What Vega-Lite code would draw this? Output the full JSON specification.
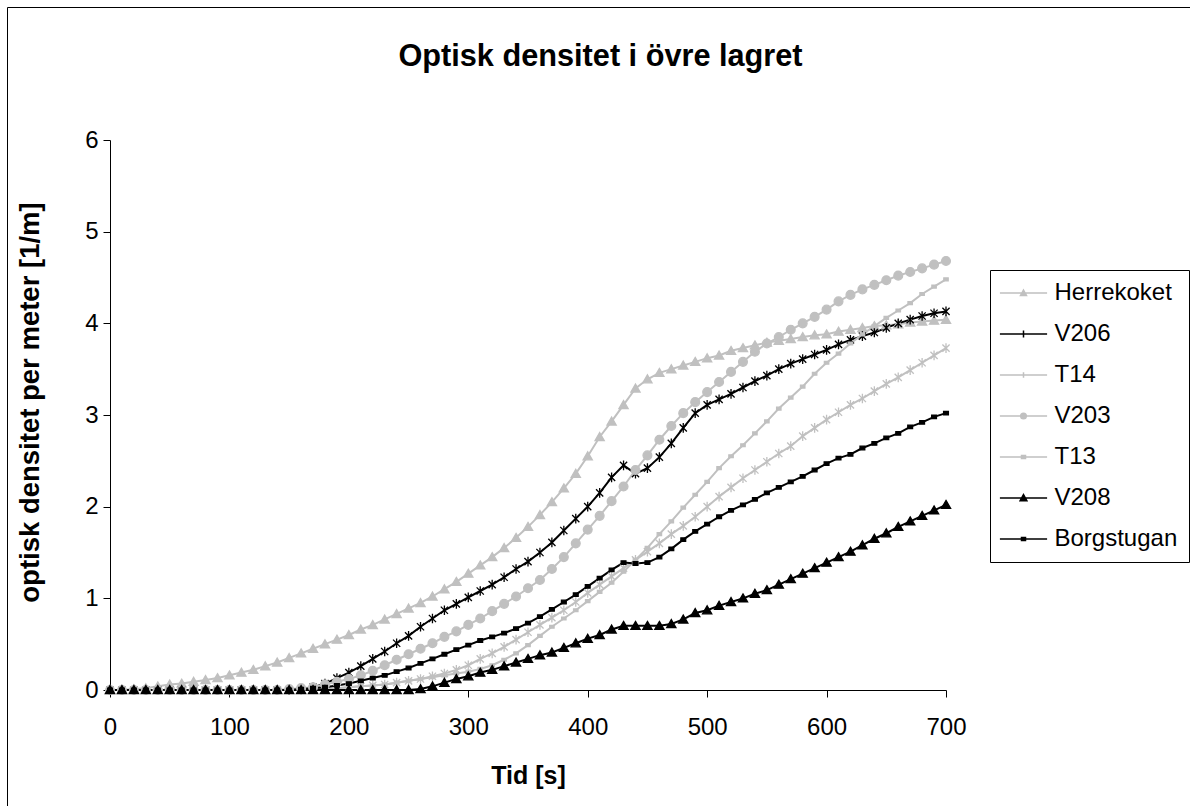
{
"$schema":"https://vega.github.io/schema/vega-lite/v6.json",
"width":1183,"height":799,
"autosize":{"type":"none"},
"padding":{"left":7,"top":7,"right":0,"bottom":0},
"background":"white",
"config":{"font":"Liberation Sans","view":{"stroke":"black","strokeWidth":1,"fill":"white"},"axis":{"grid":false,"domainColor":"black","tickColor":"black","labelColor":"black","titleColor":"black","domainWidth":1,"tickWidth":1}},
"title":{"text":"Optisk densitet i övre lagret","fontSize":30.7,"fontWeight":"bold","font":"Liberation Sans","color":"black","anchor":"middle","frame":"group","offset":-90,"dx":2,"baseline":"alphabetic"},
"data":{"values":[
{"name":"Herrekoket","t":0,"v":0},{"name":"Herrekoket","t":10,"v":0},{"name":"Herrekoket","t":20,"v":0.01},{"name":"Herrekoket","t":30,"v":0.02},{"name":"Herrekoket","t":40,"v":0.04},{"name":"Herrekoket","t":50,"v":0.06},{"name":"Herrekoket","t":60,"v":0.07},{"name":"Herrekoket","t":70,"v":0.09},{"name":"Herrekoket","t":80,"v":0.11},{"name":"Herrekoket","t":90,"v":0.13},
{"name":"Herrekoket","t":100,"v":0.16},{"name":"Herrekoket","t":110,"v":0.19},{"name":"Herrekoket","t":120,"v":0.22},{"name":"Herrekoket","t":130,"v":0.26},{"name":"Herrekoket","t":140,"v":0.3},{"name":"Herrekoket","t":150,"v":0.35},{"name":"Herrekoket","t":160,"v":0.4},{"name":"Herrekoket","t":170,"v":0.45},{"name":"Herrekoket","t":180,"v":0.5},{"name":"Herrekoket","t":190,"v":0.55},
{"name":"Herrekoket","t":200,"v":0.6},{"name":"Herrekoket","t":210,"v":0.66},{"name":"Herrekoket","t":220,"v":0.71},{"name":"Herrekoket","t":230,"v":0.77},{"name":"Herrekoket","t":240,"v":0.83},{"name":"Herrekoket","t":250,"v":0.89},{"name":"Herrekoket","t":260,"v":0.95},{"name":"Herrekoket","t":270,"v":1.02},{"name":"Herrekoket","t":280,"v":1.1},{"name":"Herrekoket","t":290,"v":1.18},
{"name":"Herrekoket","t":300,"v":1.27},{"name":"Herrekoket","t":310,"v":1.36},{"name":"Herrekoket","t":320,"v":1.45},{"name":"Herrekoket","t":330,"v":1.55},{"name":"Herrekoket","t":340,"v":1.66},{"name":"Herrekoket","t":350,"v":1.78},{"name":"Herrekoket","t":360,"v":1.91},{"name":"Herrekoket","t":370,"v":2.05},{"name":"Herrekoket","t":380,"v":2.2},{"name":"Herrekoket","t":390,"v":2.36},
{"name":"Herrekoket","t":400,"v":2.55},{"name":"Herrekoket","t":410,"v":2.76},{"name":"Herrekoket","t":420,"v":2.93},{"name":"Herrekoket","t":430,"v":3.11},{"name":"Herrekoket","t":440,"v":3.29},{"name":"Herrekoket","t":450,"v":3.39},{"name":"Herrekoket","t":460,"v":3.46},{"name":"Herrekoket","t":470,"v":3.5},{"name":"Herrekoket","t":480,"v":3.54},{"name":"Herrekoket","t":490,"v":3.58},
{"name":"Herrekoket","t":500,"v":3.62},{"name":"Herrekoket","t":510,"v":3.65},{"name":"Herrekoket","t":520,"v":3.7},{"name":"Herrekoket","t":530,"v":3.73},{"name":"Herrekoket","t":540,"v":3.76},{"name":"Herrekoket","t":550,"v":3.79},{"name":"Herrekoket","t":560,"v":3.81},{"name":"Herrekoket","t":570,"v":3.83},{"name":"Herrekoket","t":580,"v":3.85},{"name":"Herrekoket","t":590,"v":3.87},
{"name":"Herrekoket","t":600,"v":3.88},{"name":"Herrekoket","t":610,"v":3.91},{"name":"Herrekoket","t":620,"v":3.93},{"name":"Herrekoket","t":630,"v":3.95},{"name":"Herrekoket","t":640,"v":3.97},{"name":"Herrekoket","t":650,"v":3.98},{"name":"Herrekoket","t":660,"v":3.99},{"name":"Herrekoket","t":670,"v":4.01},{"name":"Herrekoket","t":680,"v":4.02},{"name":"Herrekoket","t":690,"v":4.03},{"name":"Herrekoket","t":700,"v":4.04},
{"name":"V206","t":0,"v":0},{"name":"V206","t":10,"v":0},{"name":"V206","t":20,"v":0},{"name":"V206","t":30,"v":0},{"name":"V206","t":40,"v":0},{"name":"V206","t":50,"v":0},{"name":"V206","t":60,"v":0},{"name":"V206","t":70,"v":0},{"name":"V206","t":80,"v":0},{"name":"V206","t":90,"v":0},
{"name":"V206","t":100,"v":0},{"name":"V206","t":110,"v":0},{"name":"V206","t":120,"v":0},{"name":"V206","t":130,"v":0},{"name":"V206","t":140,"v":0},{"name":"V206","t":150,"v":0},{"name":"V206","t":160,"v":0.01},{"name":"V206","t":170,"v":0.03},{"name":"V206","t":180,"v":0.07},{"name":"V206","t":190,"v":0.13},
{"name":"V206","t":200,"v":0.19},{"name":"V206","t":210,"v":0.26},{"name":"V206","t":220,"v":0.34},{"name":"V206","t":230,"v":0.42},{"name":"V206","t":240,"v":0.51},{"name":"V206","t":250,"v":0.59},{"name":"V206","t":260,"v":0.69},{"name":"V206","t":270,"v":0.78},{"name":"V206","t":280,"v":0.87},{"name":"V206","t":290,"v":0.94},
{"name":"V206","t":300,"v":1.01},{"name":"V206","t":310,"v":1.08},{"name":"V206","t":320,"v":1.15},{"name":"V206","t":330,"v":1.23},{"name":"V206","t":340,"v":1.32},{"name":"V206","t":350,"v":1.4},{"name":"V206","t":360,"v":1.5},{"name":"V206","t":370,"v":1.61},{"name":"V206","t":380,"v":1.74},{"name":"V206","t":390,"v":1.87},
{"name":"V206","t":400,"v":2.0},{"name":"V206","t":410,"v":2.15},{"name":"V206","t":420,"v":2.32},{"name":"V206","t":430,"v":2.45},{"name":"V206","t":440,"v":2.36},{"name":"V206","t":450,"v":2.42},{"name":"V206","t":460,"v":2.54},{"name":"V206","t":470,"v":2.69},{"name":"V206","t":480,"v":2.86},{"name":"V206","t":490,"v":3.02},
{"name":"V206","t":500,"v":3.11},{"name":"V206","t":510,"v":3.17},{"name":"V206","t":520,"v":3.23},{"name":"V206","t":530,"v":3.3},{"name":"V206","t":540,"v":3.37},{"name":"V206","t":550,"v":3.43},{"name":"V206","t":560,"v":3.5},{"name":"V206","t":570,"v":3.56},{"name":"V206","t":580,"v":3.61},{"name":"V206","t":590,"v":3.66},
{"name":"V206","t":600,"v":3.71},{"name":"V206","t":610,"v":3.77},{"name":"V206","t":620,"v":3.82},{"name":"V206","t":630,"v":3.86},{"name":"V206","t":640,"v":3.9},{"name":"V206","t":650,"v":3.95},{"name":"V206","t":660,"v":4.0},{"name":"V206","t":670,"v":4.04},{"name":"V206","t":680,"v":4.08},{"name":"V206","t":690,"v":4.11},{"name":"V206","t":700,"v":4.13},
{"name":"T14","t":0,"v":0},{"name":"T14","t":10,"v":0},{"name":"T14","t":20,"v":0},{"name":"T14","t":30,"v":0},{"name":"T14","t":40,"v":0},{"name":"T14","t":50,"v":0},{"name":"T14","t":60,"v":0},{"name":"T14","t":70,"v":0},{"name":"T14","t":80,"v":0},{"name":"T14","t":90,"v":0},
{"name":"T14","t":100,"v":0},{"name":"T14","t":110,"v":0},{"name":"T14","t":120,"v":0},{"name":"T14","t":130,"v":0},{"name":"T14","t":140,"v":0},{"name":"T14","t":150,"v":0},{"name":"T14","t":160,"v":0},{"name":"T14","t":170,"v":0.01},{"name":"T14","t":180,"v":0.01},{"name":"T14","t":190,"v":0.02},
{"name":"T14","t":200,"v":0.03},{"name":"T14","t":210,"v":0.04},{"name":"T14","t":220,"v":0.05},{"name":"T14","t":230,"v":0.06},{"name":"T14","t":240,"v":0.08},{"name":"T14","t":250,"v":0.1},{"name":"T14","t":260,"v":0.12},{"name":"T14","t":270,"v":0.15},{"name":"T14","t":280,"v":0.18},{"name":"T14","t":290,"v":0.22},
{"name":"T14","t":300,"v":0.27},{"name":"T14","t":310,"v":0.34},{"name":"T14","t":320,"v":0.4},{"name":"T14","t":330,"v":0.47},{"name":"T14","t":340,"v":0.55},{"name":"T14","t":350,"v":0.63},{"name":"T14","t":360,"v":0.71},{"name":"T14","t":370,"v":0.79},{"name":"T14","t":380,"v":0.87},{"name":"T14","t":390,"v":0.96},
{"name":"T14","t":400,"v":1.06},{"name":"T14","t":410,"v":1.15},{"name":"T14","t":420,"v":1.24},{"name":"T14","t":430,"v":1.33},{"name":"T14","t":440,"v":1.42},{"name":"T14","t":450,"v":1.51},{"name":"T14","t":460,"v":1.6},{"name":"T14","t":470,"v":1.7},{"name":"T14","t":480,"v":1.79},{"name":"T14","t":490,"v":1.89},
{"name":"T14","t":500,"v":2.0},{"name":"T14","t":510,"v":2.11},{"name":"T14","t":520,"v":2.21},{"name":"T14","t":530,"v":2.31},{"name":"T14","t":540,"v":2.4},{"name":"T14","t":550,"v":2.49},{"name":"T14","t":560,"v":2.58},{"name":"T14","t":570,"v":2.66},{"name":"T14","t":580,"v":2.77},{"name":"T14","t":590,"v":2.86},
{"name":"T14","t":600,"v":2.95},{"name":"T14","t":610,"v":3.03},{"name":"T14","t":620,"v":3.11},{"name":"T14","t":630,"v":3.18},{"name":"T14","t":640,"v":3.26},{"name":"T14","t":650,"v":3.34},{"name":"T14","t":660,"v":3.41},{"name":"T14","t":670,"v":3.49},{"name":"T14","t":680,"v":3.57},{"name":"T14","t":690,"v":3.65},{"name":"T14","t":700,"v":3.73},
{"name":"V203","t":0,"v":0},{"name":"V203","t":10,"v":0},{"name":"V203","t":20,"v":0},{"name":"V203","t":30,"v":0},{"name":"V203","t":40,"v":0},{"name":"V203","t":50,"v":0},{"name":"V203","t":60,"v":0},{"name":"V203","t":70,"v":0},{"name":"V203","t":80,"v":0},{"name":"V203","t":90,"v":0},
{"name":"V203","t":100,"v":0},{"name":"V203","t":110,"v":0},{"name":"V203","t":120,"v":0},{"name":"V203","t":130,"v":0},{"name":"V203","t":140,"v":0},{"name":"V203","t":150,"v":0.01},{"name":"V203","t":160,"v":0.02},{"name":"V203","t":170,"v":0.03},{"name":"V203","t":180,"v":0.06},{"name":"V203","t":190,"v":0.09},
{"name":"V203","t":200,"v":0.12},{"name":"V203","t":210,"v":0.16},{"name":"V203","t":220,"v":0.21},{"name":"V203","t":230,"v":0.27},{"name":"V203","t":240,"v":0.33},{"name":"V203","t":250,"v":0.39},{"name":"V203","t":260,"v":0.45},{"name":"V203","t":270,"v":0.51},{"name":"V203","t":280,"v":0.58},{"name":"V203","t":290,"v":0.64},
{"name":"V203","t":300,"v":0.71},{"name":"V203","t":310,"v":0.78},{"name":"V203","t":320,"v":0.86},{"name":"V203","t":330,"v":0.94},{"name":"V203","t":340,"v":1.02},{"name":"V203","t":350,"v":1.11},{"name":"V203","t":360,"v":1.2},{"name":"V203","t":370,"v":1.32},{"name":"V203","t":380,"v":1.45},{"name":"V203","t":390,"v":1.6},
{"name":"V203","t":400,"v":1.75},{"name":"V203","t":410,"v":1.9},{"name":"V203","t":420,"v":2.06},{"name":"V203","t":430,"v":2.22},{"name":"V203","t":440,"v":2.4},{"name":"V203","t":450,"v":2.56},{"name":"V203","t":460,"v":2.73},{"name":"V203","t":470,"v":2.88},{"name":"V203","t":480,"v":3.02},{"name":"V203","t":490,"v":3.14},
{"name":"V203","t":500,"v":3.25},{"name":"V203","t":510,"v":3.36},{"name":"V203","t":520,"v":3.47},{"name":"V203","t":530,"v":3.58},{"name":"V203","t":540,"v":3.69},{"name":"V203","t":550,"v":3.78},{"name":"V203","t":560,"v":3.85},{"name":"V203","t":570,"v":3.93},{"name":"V203","t":580,"v":4.0},{"name":"V203","t":590,"v":4.07},
{"name":"V203","t":600,"v":4.15},{"name":"V203","t":610,"v":4.24},{"name":"V203","t":620,"v":4.31},{"name":"V203","t":630,"v":4.37},{"name":"V203","t":640,"v":4.42},{"name":"V203","t":650,"v":4.47},{"name":"V203","t":660,"v":4.52},{"name":"V203","t":670,"v":4.56},{"name":"V203","t":680,"v":4.6},{"name":"V203","t":690,"v":4.64},{"name":"V203","t":700,"v":4.68},
{"name":"T13","t":0,"v":0},{"name":"T13","t":10,"v":0},{"name":"T13","t":20,"v":0},{"name":"T13","t":30,"v":0},{"name":"T13","t":40,"v":0},{"name":"T13","t":50,"v":0},{"name":"T13","t":60,"v":0},{"name":"T13","t":70,"v":0},{"name":"T13","t":80,"v":0},{"name":"T13","t":90,"v":0},
{"name":"T13","t":100,"v":0},{"name":"T13","t":110,"v":0},{"name":"T13","t":120,"v":0},{"name":"T13","t":130,"v":0},{"name":"T13","t":140,"v":0},{"name":"T13","t":150,"v":0},{"name":"T13","t":160,"v":0.01},{"name":"T13","t":170,"v":0.01},{"name":"T13","t":180,"v":0.02},{"name":"T13","t":190,"v":0.02},
{"name":"T13","t":200,"v":0.03},{"name":"T13","t":210,"v":0.04},{"name":"T13","t":220,"v":0.05},{"name":"T13","t":230,"v":0.06},{"name":"T13","t":240,"v":0.08},{"name":"T13","t":250,"v":0.1},{"name":"T13","t":260,"v":0.12},{"name":"T13","t":270,"v":0.14},{"name":"T13","t":280,"v":0.16},{"name":"T13","t":290,"v":0.18},
{"name":"T13","t":300,"v":0.2},{"name":"T13","t":310,"v":0.23},{"name":"T13","t":320,"v":0.27},{"name":"T13","t":330,"v":0.33},{"name":"T13","t":340,"v":0.4},{"name":"T13","t":350,"v":0.49},{"name":"T13","t":360,"v":0.59},{"name":"T13","t":370,"v":0.69},{"name":"T13","t":380,"v":0.78},{"name":"T13","t":390,"v":0.87},
{"name":"T13","t":400,"v":0.97},{"name":"T13","t":410,"v":1.07},{"name":"T13","t":420,"v":1.17},{"name":"T13","t":430,"v":1.29},{"name":"T13","t":440,"v":1.42},{"name":"T13","t":450,"v":1.55},{"name":"T13","t":460,"v":1.7},{"name":"T13","t":470,"v":1.84},{"name":"T13","t":480,"v":1.99},{"name":"T13","t":490,"v":2.13},
{"name":"T13","t":500,"v":2.27},{"name":"T13","t":510,"v":2.42},{"name":"T13","t":520,"v":2.55},{"name":"T13","t":530,"v":2.67},{"name":"T13","t":540,"v":2.8},{"name":"T13","t":550,"v":2.93},{"name":"T13","t":560,"v":3.07},{"name":"T13","t":570,"v":3.19},{"name":"T13","t":580,"v":3.31},{"name":"T13","t":590,"v":3.45},
{"name":"T13","t":600,"v":3.57},{"name":"T13","t":610,"v":3.67},{"name":"T13","t":620,"v":3.78},{"name":"T13","t":630,"v":3.88},{"name":"T13","t":640,"v":3.97},{"name":"T13","t":650,"v":4.06},{"name":"T13","t":660,"v":4.14},{"name":"T13","t":670,"v":4.22},{"name":"T13","t":680,"v":4.32},{"name":"T13","t":690,"v":4.4},{"name":"T13","t":700,"v":4.48},
{"name":"V208","t":0,"v":0},{"name":"V208","t":10,"v":0},{"name":"V208","t":20,"v":0},{"name":"V208","t":30,"v":0},{"name":"V208","t":40,"v":0},{"name":"V208","t":50,"v":0},{"name":"V208","t":60,"v":0},{"name":"V208","t":70,"v":0},{"name":"V208","t":80,"v":0},{"name":"V208","t":90,"v":0},
{"name":"V208","t":100,"v":0},{"name":"V208","t":110,"v":0},{"name":"V208","t":120,"v":0},{"name":"V208","t":130,"v":0},{"name":"V208","t":140,"v":0},{"name":"V208","t":150,"v":0},{"name":"V208","t":160,"v":0},{"name":"V208","t":170,"v":0},{"name":"V208","t":180,"v":0},{"name":"V208","t":190,"v":0},
{"name":"V208","t":200,"v":0},{"name":"V208","t":210,"v":0},{"name":"V208","t":220,"v":0},{"name":"V208","t":230,"v":0},{"name":"V208","t":240,"v":0},{"name":"V208","t":250,"v":0},{"name":"V208","t":260,"v":0.01},{"name":"V208","t":270,"v":0.04},{"name":"V208","t":280,"v":0.08},{"name":"V208","t":290,"v":0.12},
{"name":"V208","t":300,"v":0.15},{"name":"V208","t":310,"v":0.19},{"name":"V208","t":320,"v":0.22},{"name":"V208","t":330,"v":0.26},{"name":"V208","t":340,"v":0.3},{"name":"V208","t":350,"v":0.34},{"name":"V208","t":360,"v":0.38},{"name":"V208","t":370,"v":0.41},{"name":"V208","t":380,"v":0.46},{"name":"V208","t":390,"v":0.51},
{"name":"V208","t":400,"v":0.56},{"name":"V208","t":410,"v":0.6},{"name":"V208","t":420,"v":0.66},{"name":"V208","t":430,"v":0.7},{"name":"V208","t":440,"v":0.7},{"name":"V208","t":450,"v":0.7},{"name":"V208","t":460,"v":0.7},{"name":"V208","t":470,"v":0.72},{"name":"V208","t":480,"v":0.77},{"name":"V208","t":490,"v":0.84},
{"name":"V208","t":500,"v":0.87},{"name":"V208","t":510,"v":0.92},{"name":"V208","t":520,"v":0.96},{"name":"V208","t":530,"v":1.0},{"name":"V208","t":540,"v":1.05},{"name":"V208","t":550,"v":1.09},{"name":"V208","t":560,"v":1.15},{"name":"V208","t":570,"v":1.21},{"name":"V208","t":580,"v":1.27},{"name":"V208","t":590,"v":1.33},
{"name":"V208","t":600,"v":1.39},{"name":"V208","t":610,"v":1.45},{"name":"V208","t":620,"v":1.51},{"name":"V208","t":630,"v":1.58},{"name":"V208","t":640,"v":1.65},{"name":"V208","t":650,"v":1.71},{"name":"V208","t":660,"v":1.78},{"name":"V208","t":670,"v":1.84},{"name":"V208","t":680,"v":1.9},{"name":"V208","t":690,"v":1.96},{"name":"V208","t":700,"v":2.02},
{"name":"Borgstugan","t":0,"v":0},{"name":"Borgstugan","t":10,"v":0},{"name":"Borgstugan","t":20,"v":0},{"name":"Borgstugan","t":30,"v":0},{"name":"Borgstugan","t":40,"v":0},{"name":"Borgstugan","t":50,"v":0},{"name":"Borgstugan","t":60,"v":0},{"name":"Borgstugan","t":70,"v":0},{"name":"Borgstugan","t":80,"v":0},{"name":"Borgstugan","t":90,"v":0},
{"name":"Borgstugan","t":100,"v":0},{"name":"Borgstugan","t":110,"v":0},{"name":"Borgstugan","t":120,"v":0},{"name":"Borgstugan","t":130,"v":0},{"name":"Borgstugan","t":140,"v":0},{"name":"Borgstugan","t":150,"v":0},{"name":"Borgstugan","t":160,"v":0.01},{"name":"Borgstugan","t":170,"v":0.02},{"name":"Borgstugan","t":180,"v":0.03},{"name":"Borgstugan","t":190,"v":0.05},
{"name":"Borgstugan","t":200,"v":0.07},{"name":"Borgstugan","t":210,"v":0.1},{"name":"Borgstugan","t":220,"v":0.13},{"name":"Borgstugan","t":230,"v":0.16},{"name":"Borgstugan","t":240,"v":0.2},{"name":"Borgstugan","t":250,"v":0.24},{"name":"Borgstugan","t":260,"v":0.29},{"name":"Borgstugan","t":270,"v":0.34},{"name":"Borgstugan","t":280,"v":0.39},{"name":"Borgstugan","t":290,"v":0.44},
{"name":"Borgstugan","t":300,"v":0.49},{"name":"Borgstugan","t":310,"v":0.54},{"name":"Borgstugan","t":320,"v":0.58},{"name":"Borgstugan","t":330,"v":0.62},{"name":"Borgstugan","t":340,"v":0.67},{"name":"Borgstugan","t":350,"v":0.73},{"name":"Borgstugan","t":360,"v":0.8},{"name":"Borgstugan","t":370,"v":0.88},{"name":"Borgstugan","t":380,"v":0.96},{"name":"Borgstugan","t":390,"v":1.04},
{"name":"Borgstugan","t":400,"v":1.13},{"name":"Borgstugan","t":410,"v":1.22},{"name":"Borgstugan","t":420,"v":1.31},{"name":"Borgstugan","t":430,"v":1.39},{"name":"Borgstugan","t":440,"v":1.38},{"name":"Borgstugan","t":450,"v":1.39},{"name":"Borgstugan","t":460,"v":1.45},{"name":"Borgstugan","t":470,"v":1.54},{"name":"Borgstugan","t":480,"v":1.64},{"name":"Borgstugan","t":490,"v":1.73},
{"name":"Borgstugan","t":500,"v":1.81},{"name":"Borgstugan","t":510,"v":1.89},{"name":"Borgstugan","t":520,"v":1.96},{"name":"Borgstugan","t":530,"v":2.02},{"name":"Borgstugan","t":540,"v":2.08},{"name":"Borgstugan","t":550,"v":2.15},{"name":"Borgstugan","t":560,"v":2.21},{"name":"Borgstugan","t":570,"v":2.27},{"name":"Borgstugan","t":580,"v":2.33},{"name":"Borgstugan","t":590,"v":2.4},
{"name":"Borgstugan","t":600,"v":2.47},{"name":"Borgstugan","t":610,"v":2.53},{"name":"Borgstugan","t":620,"v":2.57},{"name":"Borgstugan","t":630,"v":2.64},{"name":"Borgstugan","t":640,"v":2.69},{"name":"Borgstugan","t":650,"v":2.75},{"name":"Borgstugan","t":660,"v":2.8},{"name":"Borgstugan","t":670,"v":2.87},{"name":"Borgstugan","t":680,"v":2.92},{"name":"Borgstugan","t":690,"v":2.98},{"name":"Borgstugan","t":700,"v":3.02}
]},
"encoding":{
"x":{"field":"t","type":"quantitative","scale":{"domain":[0,700],"range":[103,939],"nice":false},
"axis":{"title":"Tid [s]","values":[0,100,200,300,400,500,600,700],"offset":-116,"tickSize":7,"labelFontSize":24,"labelPadding":18,"labelFlush":false,"titleFontSize":25,"titleFontWeight":"bold","titleY":85,"titleBaseline":"middle"}},
"y":{"field":"v","type":"quantitative","scale":{"domain":[0,6],"range":[683,133],"nice":false},
"axis":{"title":"optisk densitet per meter [1/m]","values":[0,1,2,3,4,5,6],"offset":-103,"tickSize":7,"labelFontSize":24,"labelPadding":5,"labelFlush":false,"titleFontSize":27.5,"titleFontWeight":"bold","titleAngle":-90,"titleAlign":"center","titleBaseline":"middle","titleX":-80,"titleY":395}}
},
"layer":[
{"mark":{"type":"line","strokeWidth":2},
"encoding":{"stroke":{"field":"name","type":"nominal","legend":null,
"scale":{"range":["#000000","#c0c0c0","#c0c0c0","#c0c0c0","#c0c0c0","#000000","#000000"]}}}},
{"mark":{"type":"point","size":64,"strokeWidth":1.3,"opacity":1,"filled":false},
"encoding":{
"stroke":{"field":"name","type":"nominal","legend":null,
"scale":{"range":["#000000","#c0c0c0","#c0c0c0","#c0c0c0","#c0c0c0","#000000","#000000"]}},
"shape":{"field":"name","type":"nominal","legend":null,
"scale":{"range":["M-0.6,-0.45H0.6V0.45H-0.6Z","M0,-1.1L1.15,0.9L-1.15,0.9Z","M-0.55,-0.35H0.55V0.35H-0.55Z","M-0.9,-0.9L0.9,0.9M-0.9,0.9L0.9,-0.9M0,-1.2V1.2","M1.1,0A1.1,1.1,0,1,1,-1.1,0A1.1,1.1,0,1,1,1.1,0Z","M-0.9,-0.9L0.9,0.9M-0.9,0.9L0.9,-0.9M0,-1.2V1.2","M0,-1.1L1.15,0.9L-1.15,0.9Z"]}},
"fill":{"field":"name","type":"nominal",
"scale":{"domain":["Herrekoket","V206","T14","V203","T13","V208","Borgstugan"],"range":["#c0c0c0","transparent","transparent","#c0c0c0","#c0c0c0","#000000","#000000"]},
"legend":{"title":null,"orient":"none","legendX":983,"legendY":263,"padding":11,"strokeColor":"black","fillColor":"white","cornerRadius":0,
"labelFontSize":24,"labelColor":"black","labelFont":"Liberation Sans","symbolOffset":10.5,"labelOffset":19,"rowPadding":17,"symbolSize":64,"symbolStrokeWidth":1.5,
"encoding":{"symbols":{
"shape":{"value":{"expr":"['M-5.9,0H5.9M0,-0.75L0.75,0.6L-0.75,0.6Z','M-5.9,0H5.9M0,-0.9V0.9','M-5.9,0H5.9M0,-0.7V0.7','M-5.9,0H5.9M0.7,0A0.7,0.7,0,1,1,-0.7,0A0.7,0.7,0,1,1,0.7,0Z','M-5.9,0H5.9M-0.5,-0.35H0.5V0.35H-0.5Z','M-5.9,0H5.9M0,-0.85L0.85,0.7L-0.85,0.7Z','M-5.9,0H5.9M-0.5,-0.4H0.5V0.4H-0.5Z'][indexof(['Herrekoket','V206','T14','V203','T13','V208','Borgstugan'],datum.value)]"}},
"stroke":{"value":{"expr":"['#c0c0c0','#000000','#c0c0c0','#c0c0c0','#c0c0c0','#000000','#000000'][indexof(['Herrekoket','V206','T14','V203','T13','V208','Borgstugan'],datum.value)]"}},
"strokeWidth":{"value":1.5},"size":{"value":64},"opacity":{"value":1}}}}}
}}
]
}
